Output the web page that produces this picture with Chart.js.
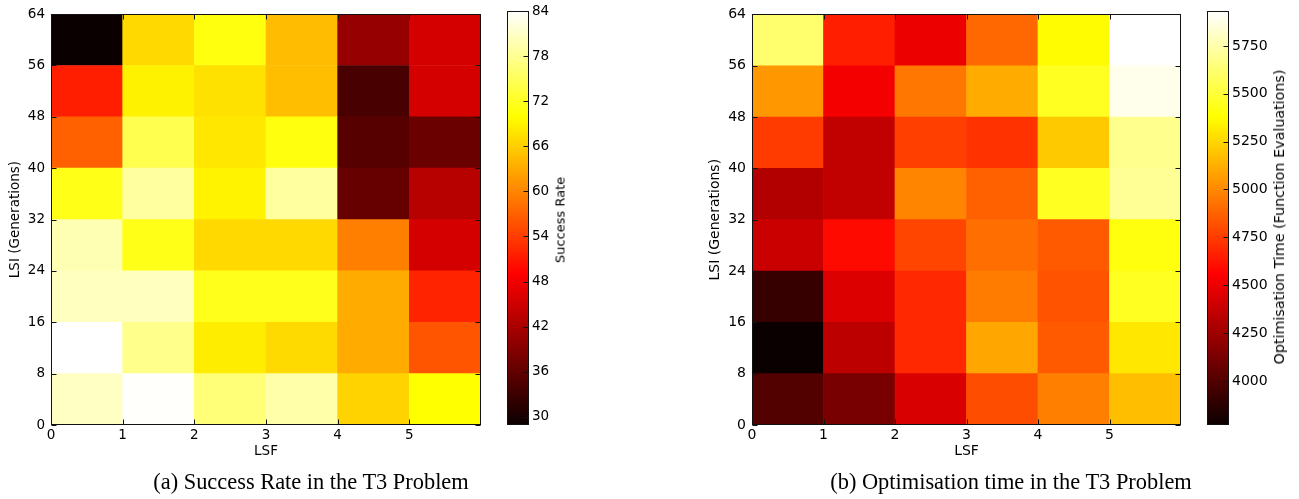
<!DOCTYPE html>
<html>
<head>
<meta charset="utf-8">
<script src="https://cdn.jsdelivr.net/npm/chart.js@4"></script>
<style>
  body { margin: 0; background: #fff; width: 1299px; height: 499px; position: relative; overflow: hidden; }
  canvas { position: absolute; top: 0; }
  .cap { position: absolute; top: 471px; font-family: "Liberation Serif", serif; font-size: 22.4px; line-height: 22.4px; color: #000; white-space: nowrap; transform: translateX(-50%); }
  .cblabel { position: absolute; font-family: "DejaVu Sans", sans-serif; color: #000; white-space: nowrap; transform: translate(-50%, -50%) rotate(-90deg); }
</style>
</head>
<body>
<canvas id="heatA" width="490" height="470" style="left:0px"></canvas>
<canvas id="barA" width="120" height="440" style="left:480px"></canvas>
<canvas id="heatB" width="490" height="470" style="left:700px"></canvas>
<canvas id="barB" width="120" height="440" style="left:1180px"></canvas>
<div class="cblabel" style="left:560px; top:220px; font-size:13px">Success Rate</div>
<div class="cblabel" style="left:1279px; top:217px; font-size:14.3px">Optimisation Time (Function Evaluations)</div>
<div class="cap" style="left:311px">(a) Success Rate in the T3 Problem</div>
<div class="cap" style="left:1011px">(b) Optimisation time in the T3 Problem</div>
<script>
//  axis ticks
const lsfTicks = [0, 1, 2, 3, 4, 5];
const lsiTicks = [0, 8, 16, 24, 32, 40, 48, 56, 64];
const successTicks = [30, 36, 42, 48, 54, 60, 66, 72, 78, 84];
const timeTicks = [4000, 4250, 4500, 4750, 5000, 5250, 5500, 5750];

//  rows from top (LSI 56-64) down to bottom (LSI 0-8), one value per LSF column
const successRate = [
    [28.9, 66.9, 70.8, 64.5, 40.4, 45.5],
    [51.5, 68.9, 67.5, 64.7, 34.0, 45.5],
    [57.0, 74.4, 68.0, 70.8, 35.2, 36.8],
    [71.3, 78.8, 69.0, 78.8, 36.4, 43.1],
    [79.9, 71.3, 66.9, 66.9, 59.5, 45.5],
    [80.5, 80.5, 71.5, 71.5, 63.1, 51.9],
    [84.0, 77.7, 68.5, 67.0, 63.1, 56.0],
    [80.7, 83.8, 76.6, 79.3, 66.4, 70.0]
];
const optTime = [
    [5617, 4656, 4496, 4893, 5368, 5930],
    [5050, 4526, 4939, 5109, 5455, 5887],
    [4748, 4357, 4763, 4720, 5207, 5684],
    [4310, 4357, 4986, 4872, 5455, 5703],
    [4388, 4591, 4780, 4915, 4850, 5412],
    [3909, 4450, 4688, 4958, 4828, 5455],
    [3770, 4342, 4688, 5098, 4850, 5303],
    [4000, 4126, 4433, 4807, 4970, 5174]
];

//  matplotlib "hot" colormap
const hotStops = [0, 0.365079, 0.746032, 1];
function hot(t) {
    t = Math.max(0, Math.min(1, t));
    const r = t < 0.365079 ? 0.0416 + (1 - 0.0416) * t / 0.365079 : 1;
    const g = t < 0.365079 ? 0 : (t < 0.746032 ? (t - 0.365079) / (0.746032 - 0.365079) : 1);
    const b = t < 0.746032 ? 0 : (t - 0.746032) / (1 - 0.746032);
    return 'rgb(' + Math.round(r * 255) + ',' + Math.round(g * 255) + ',' + Math.round(b * 255) + ')';
}

//  black frame plus inward tick marks
const framePlugin = {
    id: 'frame',
    afterDatasetsDraw(chart, args, opts) {
        const {ctx, chartArea: a, scales} = chart;
        const L = Math.round(a.left) + 0.5, R = Math.round(a.right) - 0.5;
        const T = Math.round(a.top) + 0.5, B = Math.round(a.bottom) - 0.5;
        const len = 5;
        ctx.save();
        ctx.strokeStyle = '#111';
        ctx.lineWidth = 1;
        ctx.beginPath();
        scales.y.ticks.forEach(t => {
            const py = Math.round(scales.y.getPixelForValue(t.value)) + 0.5;
            ctx.moveTo(R, py); ctx.lineTo(R - len, py);
            if (opts.all) { ctx.moveTo(L, py); ctx.lineTo(L + len, py); }
        });
        if (opts.all) {
            scales.x.ticks.forEach(t => {
                const px = Math.round(scales.x.getPixelForValue(t.value)) + 0.5;
                ctx.moveTo(px, B); ctx.lineTo(px, B - len);
                ctx.moveTo(px, T); ctx.lineTo(px, T + len);
            });
        }
        ctx.stroke();
        ctx.strokeRect(L, T, R - L, B - T);
        ctx.restore();
    }
};

function heatmap(id, rows, yWidth, size) {
    const font = {family: 'DejaVu Sans', size: size};
    const flat = rows.flat();
    const vmin = Math.min(...flat), vmax = Math.max(...flat);
    const cells = [], colors = [];
    rows.forEach((row, i) => {
        const lo = lsiTicks[rows.length - 1 - i], hi = lsiTicks[rows.length - i];
        row.forEach((v, c) => {
            cells.push({x: lsfTicks[c] + 0.5, y: [lo, hi]});
            colors.push(hot((v - vmin) / (vmax - vmin)));
        });
    });
    return new Chart(document.getElementById(id), {
        type: 'bar',
        data: {datasets: [{data: cells, backgroundColor: colors, borderWidth: 0, barPercentage: 1, categoryPercentage: 1}]},
        options: {
            responsive: false,
            animation: false,
            layout: {padding: {top: 9, right: 9, left: 0, bottom: 0}},
            plugins: {legend: {display: false}, tooltip: {enabled: false}, frame: {all: true}},
            scales: {
                x: {
                    type: 'linear', offset: false, min: 0, max: lsfTicks.length,
                    grid: {display: false, drawTicks: false}, border: {display: false},
                    afterBuildTicks: s => { s.ticks = lsfTicks.map(v => ({value: v})); },
                    afterFit: s => { s.height = 45; },
                    ticks: {autoSkip: false, maxRotation: 0, padding: 2, color: '#000', font: font},
                    title: {display: true, text: 'LSF', color: '#000', font: font, padding: {top: 0, bottom: 10}}
                },
                y: {
                    type: 'linear', min: lsiTicks[0], max: lsiTicks[lsiTicks.length - 1],
                    grid: {display: false, drawTicks: false}, border: {display: false},
                    afterBuildTicks: s => { s.ticks = lsiTicks.map(v => ({value: v})); },
                    afterFit: s => { s.width = yWidth; },
                    ticks: {autoSkip: false, padding: 6, color: '#000', font: font},
                    title: {display: true, text: 'LSI (Generations)', color: '#000', font: font, padding: {top: 7, bottom: 0}}
                }
            }
        },
        plugins: [framePlugin]
    });
}

function colorbar(id, rows, tickVals, size) {
    const font = {family: 'DejaVu Sans', size: size};
    const flat = rows.flat();
    const vmin = Math.min(...flat), vmax = Math.max(...flat);
    return new Chart(document.getElementById(id), {
        type: 'bar',
        data: {
            labels: [''],
            datasets: [{
                data: [[vmin, vmax]], borderWidth: 0, barPercentage: 1, categoryPercentage: 1,
                backgroundColor: ctx => {
                    const a = ctx.chart.chartArea;
                    if (!a) return '#000';
                    const g = ctx.chart.ctx.createLinearGradient(0, a.bottom, 0, a.top);
                    hotStops.forEach(s => g.addColorStop(s, hot(s)));
                    return g;
                }
            }]
        },
        options: {
            responsive: false,
            animation: false,
            layout: {padding: {top: 9, left: 27, bottom: 15, right: 0}},
            plugins: {legend: {display: false}, tooltip: {enabled: false}, frame: {all: false}},
            scales: {
                x: {display: false},
                y: {
                    position: 'right', min: vmin, max: vmax,
                    grid: {display: false, drawTicks: false}, border: {display: false},
                    afterBuildTicks: s => { s.ticks = tickVals.map(v => ({value: v})); },
                    afterFit: s => { s.width = 71; },
                    ticks: {autoSkip: false, padding: 3, color: '#000', font: font, callback: v => String(v)}
                }
            }
        },
        plugins: [framePlugin]
    });
}

heatmap('heatA', successRate, 51, 13.5);
colorbar('barA', successRate, successTicks, 13.5);
heatmap('heatB', optTime, 52, 14);
colorbar('barB', optTime, timeTicks, 14);
</script>
</body>
</html>
